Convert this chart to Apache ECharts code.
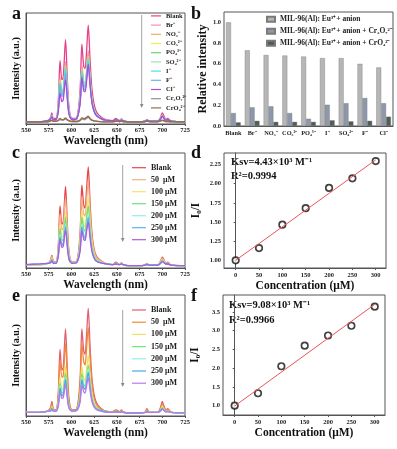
<!DOCTYPE html>
<html>
<head>
<meta charset="utf-8">
<script src="https://cdn.jsdelivr.net/npm/echarts@6/dist/echarts.min.js"></script>
<style>
  html, body { margin: 0; padding: 0; background: #fff; }
  #main { width: 397px; height: 449px; }
</style>
</head>
<body>
<div id="main"></div>
<script>
// wavelength grid (nm) shared by the three spectra panels
const wl = [550,565,574,577,578.5,580,583,585.5,587.5,589.5,591,593.5,595.5,597.5,601,606,609.5,611.5,613.5,615,616.5,618.5,620.5,623,627,635,645,649,651,653,655,657,662,675,681,683,686,695,698,700,702,704,706,710,725];

// panel a: anion spectra (relative height, % of plot)
const aBlank = [2,2,3,6,10, 5,5,20,57,40, 42,76,40,14,5, 6,30,72,52,50, 63,89,58,28,12, 5,3,5,4,3, 4.5,3,2,2,2.5, 4,2.5,2.5,6,10, 7,4,5,2.5,2];
const aBr = [2,2,3,5,8, 4,4,15,42,30, 31,56,30,11,4, 5,22,53,38,37, 46,66,43,21,9, 4,3,4,3.5,3, 4,3,2,2,2.5, 3.5,2.5,2.5,5,8, 5.5,3.5,4,2.5,2];
const aNO3 = [2,2,3,5,7.5, 4,4,14,40,28, 30,53,28,10,4, 5,21,50,36,35, 44,62,40,20,9, 4,3,4,3.5,3, 4,3,2,2,2.5, 3.5,2.5,2.5,5,7.5, 5.5,3.5,4,2.5,2];
const aCO3 = [2,2,3,5,7.5, 4,4,14,39,28, 29,52,28,10,4, 5,21,49,35,34, 43,61,40,19,9, 4,3,4,3.5,3, 4,3,2,2,2.5, 3.5,2.5,2.5,5,7.5, 5.5,3.5,4,2.5,2];
const aPO4 = [2,2,3,5,7.5, 4,4,14,38,27, 29,51,27,10,4, 5,20,48,35,34, 43,60,39,19,9, 4,3,4,3.5,3, 4,3,2,2,2.5, 3.5,2.5,2.5,5,7.5, 5,3.5,4,2.5,2];
const aSO4 = [2,2,3,5,7, 4,4,13,38,27, 28,50,27,10,4, 5,20,47,34,33, 42,59,39,19,9, 4,3,4,3.5,3, 4,3,2,2,2.5, 3.5,2.5,2.5,5,7, 5,3.5,4,2.5,2];
const aI = [2,2,3,5,7, 4,4,13,37,26, 28,50,26,10,4, 5,20,47,34,33, 42,58,38,19,9, 4,3,4,3.5,3, 4,3,2,2,2.5, 3.5,2.5,2.5,5,7, 5,3.5,4,2.5,2];
const aF = [2,2,3,4.5,7, 4,4,13,35,25, 26,46,25,9,4, 5,19,44,32,31, 39,54,36,18,8, 4,3,4,3.5,3, 3.5,3,2,2,2.5, 3.5,2.5,2.5,4.5,7, 5,3.5,4,2.5,2];
const aCl = [2,2,3,4.5,6.5, 4,4,11,28,20, 22,40,22,8,4, 5,18,42,30,29, 37,54,35,17,8, 4,3,4,3.5,3, 3.5,3,2,2,2.5, 3.5,2.5,2.5,4.5,7, 5,3.5,4,2.5,2];
const aCr2O7 = [2,2,2,2.5,3, 2.5,2.5,3,4,3.5, 3.5,4.5,3.5,2.5,2, 2,3,4.5,4,4, 5,6,4.5,3,2.5, 2,2,2.5,2.5,2, 2.5,2,2,2,2, 2.5,2,2,2.5,3, 2.5,2,2,2,2];
const aCrO4 = [2,2,2,3,3.5, 2.5,2.5,3.5,5,4, 4,5.5,4,3,2.5, 2.5,3.5,5.5,5,5, 6,7,5,3.5,2.5, 2,2,2.5,2.5,2, 2.5,2,2,2,2, 2.5,2,2,3,3.5, 3,2.5,2.5,2,2];
const aNames = ['Blank','Br⁻','NO₃⁻','CO₃²⁻','PO₄³⁻','SO₄²⁻','I⁻','F⁻','Cl⁻','Cr₂O₇²⁻','CrO₄²⁻'];
const aColors = ['#e8408a','#f590b0','#f7a66a','#f2ec50','#6ad86a','#96e6b4','#4de0ea','#6ab4ec','#b04ad8','#909090','#9a6a4a'];

// panel b: relative intensity bars
const bCats = ['Blank','Br⁻','NO₃⁻','CO₃²⁻','PO₄³⁻','I⁻','SO₄²⁻','F⁻','Cl⁻'];
const bAnion = [1.0,0.73,0.685,0.68,0.67,0.655,0.655,0.60,0.565];
const bCr2O7 = [0.125,0.18,0.19,0.125,0.07,0.205,0.22,0.27,0.22];
const bCrO4 = [0.035,0.05,0.04,0.04,0.04,0.055,0.045,0.05,0.09];
const bNames = ['MIL-96(Al): Eu³⁺+ anion','MIL-96(Al): Eu³⁺+ anion + Cr₂O₇²⁻','MIL-96(Al): Eu³⁺+ anion + CrO₄²⁻'];

// panel c: Cr2O7 titration spectra
const cBlank = [3,3,4,7,11, 6,5,19,54,38, 40,71,38,13,5, 6,30,72,55,52, 66,88,57,27,11, 5,3,5,4,3, 4.5,3,2,2,2.5, 4,2.5,2.5,6,9.5, 7,4,5,2.5,2];
const c50 = [3,3,4,6.5,10, 5.5,5,17,47,33, 35,61,33,12,5, 6,26,62,47,45, 57,76,49,24,10, 5,3,4.5,4,3, 4,3,2,2,2.5, 3.5,2.5,2.5,5.5,8.5, 6.5,4,4.5,2.5,2];
const c100 = [3,3,4,6,8.5, 5,4.5,14,38,27, 28,49,27,10,4.5, 5.5,21,50,38,36, 46,61,40,20,8.5, 4.5,3,4,3.5,3, 4,3,2,2,2.5, 3.5,2.5,2.5,5,7.5, 5.5,3.5,4,2.5,2];
const c150 = [3,3,4,5.5,8, 5,4.5,13,34,24, 25,44,24,9,4.5, 5,19,44,34,32, 41,54,35,17,8, 4,3,4,3.5,3, 3.5,3,2,2,2.5, 3.5,2.5,2.5,4.5,7, 5,3.5,4,2.5,2];
const c200 = [3,3.5,4,5,7, 4.5,4,11,29,21, 22,38,21,8,4, 5,17,38,29,27, 35,46,30,15,7, 4,3,3.5,3.5,3, 3.5,3,2,2,2.5, 3,2.5,2.5,4,6, 4.5,3.5,3.5,2.5,2];
const c250 = [3,3.5,4,5,7, 4.5,4,11,27,20, 21,36,20,8,4, 5,16,36,28,26, 33,44,29,14,6.5, 4,3,3.5,3.5,3, 3.5,3,2,2,2.5, 3,2.5,2.5,4,6, 4.5,3.5,3.5,2.5,2];
const c300 = [3,3.5,4,4.5,6, 4,4,10,25,18, 19,33,18,7,4, 5,14.5,33,25,24, 31,40,26,13,6, 4,3,3.5,3,3, 3.5,3,2,2,2.5, 3,2.5,2.5,4,5.5, 4.5,3.5,3.5,2.5,2];
const cNames = ['Blank','50  μM','100 μM','150 μM','200 μM','250 μM','300 μM'];
const cColors = ['#e8454a','#f4b088','#f3e46a','#6ee07a','#8ef0f0','#5ab4ec','#b05ae0'];

// panel e: CrO4 titration spectra
const eBlank = [3,3,4,7,12, 6,5,19,55,38, 40,72,38,13,5, 6,30,72,54,51, 65,89,58,28,12, 5,3.5,5,4.5,3.5, 5,3.5,2.5,2.5,3, 6,3,3,7,12, 8,5,6,3,2.5];
const e50 = [3,3,4,6.5,10, 5.5,4.5,16,46,32, 33,60,32,11,4.5, 5.5,25,60,45,42, 54,73,48,23,10, 4.5,3.5,4.5,4,3.5, 4.5,3.5,2.5,2.5,3, 5,3,3,6,10, 7,4.5,5.5,3,2.5];
const e100 = [3,3,4,5,8, 4.5,4,12,32,22, 23,41,22,8.5,4, 5,18,41,31,29, 37,50,33,17,8, 4,3,4,3.5,3, 4,3,2.5,2.5,3, 4,3,3,5,8, 5.5,4,4.5,3,2.5];
const e150 = [3,3,4,5,7, 4.5,4,10,27,19, 20,35,19,7.5,4, 5,15,35,26,25, 31,42,28,14,7, 4,3,4,3.5,3, 3.5,3,2.5,2.5,3, 3.5,3,3,4.5,7, 5,3.5,4,3,2.5];
const e200 = [3,3,4,4.5,6.5, 4,4,9.5,25,17.5, 18.5,32,17.5,7,4, 5,14,32,24,23, 29,39,26,13,6.5, 4,3,3.5,3.5,3, 3.5,3,2.5,2.5,3, 3.5,3,3,4.5,6.5, 5,3.5,4,3,2.5];
const e250 = [3,3,4,4.5,6, 4,4,9,23,16.5, 17.5,30,16.5,6.5,4, 5,13,30,23,22, 27,36,24,12,6, 4,3,3.5,3.5,3, 3.5,3,2.5,2.5,3, 3.5,3,3,4.5,6, 4.5,3.5,4,3,2.5];
const e300 = [3,3,4,4,5.5, 4,4,8,20,14.5, 15,26,14.5,6,4, 4.5,11.5,26,20,19, 24,32,21,11,5.5, 3.5,3,3.5,3,3, 3.5,3,2.5,2.5,3, 3,3,3,4,5.5, 4.5,3.5,3.5,3,2.5];
const eColors = ['#e06070','#f08a3a','#f3e060','#6ee86e','#90f0ee','#48a8e8','#c078e8'];

// panels d and f: Stern-Volmer plots
const conc = [0,50,100,150,200,250,300];
const dRatio = [1.0,1.16,1.465,1.68,1.945,2.07,2.295];
const dFit = [[0,1.0],[300,2.31]];
const fRatio = [1.0,1.33,2.05,2.6,2.87,3.13,3.64];
const fFit = [[0,0.99],[300,3.70]];

const FF = '"Liberation Serif", "Times New Roman", serif';
const chart = echarts.init(document.getElementById('main'));

function spec(prefix, name, vals, color, idx) {
  return {
    name: prefix + name, type: 'line', xAxisIndex: idx, yAxisIndex: idx,
    data: wl.map((w, i) => [w, vals[i]]),
    symbol: 'none', smooth: 0.3,
    lineStyle: { width: 1.3, color: color }, itemStyle: { color: color }
  };
}

const lbl = { fontFamily: FF, fontWeight: 'bold', color: '#222', fontSize: 6.5 };
const axLine = { lineStyle: { color: '#555', width: 1 } };
const nameStyle = { fontFamily: FF, fontWeight: 'bold', color: '#111' };

function wlAxis(idx) {
  return {
    type: 'value', gridIndex: idx, min: 550, max: 725, interval: 25,
    axisLine: axLine, axisTick: { length: 2, lineStyle: { color: '#555' } },
    axisLabel: Object.assign({ margin: 3 }, lbl), splitLine: { show: false },
    name: 'Wavelength (nm)', nameLocation: 'middle', nameGap: 11,
    nameTextStyle: Object.assign({ fontSize: 11.5 }, nameStyle)
  };
}
function intAxis(idx) {
  return {
    type: 'value', gridIndex: idx, min: 0, max: 100,
    axisLine: axLine, axisTick: { show: false }, axisLabel: { show: false }, splitLine: { show: false },
    name: 'Intensity (a.u.)', nameLocation: 'middle', nameGap: 5,
    nameTextStyle: Object.assign({ fontSize: 10 }, nameStyle)
  };
}
function concAxis(idx) {
  return {
    type: 'value', gridIndex: idx, min: -25, max: 322,
    axisLine: axLine, axisTick: { length: 2, customValues: conc, lineStyle: { color: '#555' } },
    axisLabel: Object.assign({ margin: 4, customValues: conc }, lbl), splitLine: { show: false },
    name: 'Concentration (μM)', nameLocation: 'middle', nameGap: 12,
    nameTextStyle: Object.assign({ fontSize: 11.5 }, nameStyle)
  };
}
function ratioAxis(idx, min, max, ticks, dec) {
  return {
    type: 'value', gridIndex: idx, min: min, max: max,
    axisLine: axLine, axisTick: { length: 2, customValues: ticks, lineStyle: { color: '#555' } },
    axisLabel: Object.assign({ margin: 3, customValues: ticks, formatter: v => v.toFixed(dec) }, lbl),
    splitLine: { show: false },
    name: 'I₀/I', nameLocation: 'middle', nameGap: 22,
    nameTextStyle: Object.assign({ fontSize: 11.5 }, nameStyle)
  };
}
function specLegend(names, left, top, fs, lh, gap, w) {
  return {
    data: names, orient: 'vertical', left: left, top: top, padding: 0,
    icon: 'rect', itemWidth: w, itemHeight: 1.2, itemGap: gap, selectedMode: false,
    formatter: n => n.slice(2),
    textStyle: { fontFamily: FF, fontWeight: 'bold', color: '#222', fontSize: fs, lineHeight: lh }
  };
}

const series = [];
const aVals = [aBlank,aBr,aNO3,aCO3,aPO4,aSO4,aI,aF,aCl,aCr2O7,aCrO4];
aNames.forEach((n, i) => series.push(spec('a:', n, aVals[i], aColors[i], 0)));
const cVals = [cBlank,c50,c100,c150,c200,c250,c300];
cNames.forEach((n, i) => series.push(spec('c:', n, cVals[i], cColors[i], 2)));
const eVals = [eBlank,e50,e100,e150,e200,e250,e300];
cNames.forEach((n, i) => series.push(spec('e:', n, eVals[i], eColors[i], 4)));

const barColors = ['#b6b6b6','#8e98aa','#4e5e56'];
[bAnion, bCr2O7, bCrO4].forEach((v, i) => series.push({
  name: bNames[i], type: 'bar', xAxisIndex: 1, yAxisIndex: 1, data: v,
  barGap: '0%', barCategoryGap: '22%',
  itemStyle: { color: barColors[i], borderColor: '#7a7a7a', borderWidth: 0.4 }
}));

[[dRatio, dFit, 3], [fRatio, fFit, 5]].forEach(([pts, fit, idx]) => {
  series.push({
    type: 'line', xAxisIndex: idx, yAxisIndex: idx, data: fit, symbol: 'none',
    lineStyle: { color: '#e8555a', width: 1 }
  });
  series.push({
    type: 'scatter', xAxisIndex: idx, yAxisIndex: idx, data: conc.map((c, i) => [c, pts[i]]),
    symbol: 'circle', symbolSize: 6.5,
    itemStyle: { color: '#fff', borderColor: '#111', borderWidth: 1.7 }
  });
});

function letter(t, x, y) {
  return { type: 'text', left: x, top: y, style: { text: t, font: 'bold 18px ' + FF, fill: '#111' } };
}
function note(t, x, y) {
  return { type: 'text', left: x, top: y, style: { text: t, font: 'bold 10.5px ' + FF, fill: '#111' } };
}
function arrow(x, y1, y2) {
  return [
    { type: 'line', shape: { x1: x, y1: y1, x2: x, y2: y2 - 3 }, style: { stroke: '#8a8a8a', lineWidth: 0.8 } },
    { type: 'polygon', shape: { points: [[x - 1.8, y2 - 4], [x + 1.8, y2 - 4], [x, y2]] }, style: { fill: '#8a8a8a' } }
  ];
}

chart.setOption({
  animation: false,
  grid: [
    { left: 26, top: 13, width: 159, height: 111, show: true, borderColor: '#555', borderWidth: 1 },
    { left: 224, top: 12, width: 169, height: 114, show: true, borderColor: '#555', borderWidth: 1 },
    { left: 26, top: 153, width: 159, height: 115, show: true, borderColor: '#555', borderWidth: 1 },
    { left: 224, top: 153, width: 162, height: 115, show: true, borderColor: '#555', borderWidth: 1 },
    { left: 26, top: 295, width: 159, height: 121, show: true, borderColor: '#555', borderWidth: 1 },
    { left: 223, top: 295, width: 162, height: 120, show: true, borderColor: '#555', borderWidth: 1 }
  ],
  xAxis: [
    wlAxis(0),
    { type: 'category', gridIndex: 1, data: bCats, axisLine: axLine, axisTick: { show: false },
      axisLabel: Object.assign({ margin: 4, interval: 0 }, lbl, { fontSize: 6.3 }) },
    wlAxis(2), concAxis(3), wlAxis(4), concAxis(5)
  ],
  yAxis: [
    intAxis(0),
    { type: 'value', gridIndex: 1, min: 0, max: 1.1,
      axisLine: axLine,
      axisTick: { length: 2, customValues: [0,0.2,0.4,0.6,0.8,1.0], lineStyle: { color: '#555' } },
      axisLabel: Object.assign({ margin: 3, customValues: [0,0.2,0.4,0.6,0.8,1.0], formatter: v => v.toFixed(1) }, lbl),
      splitLine: { show: false },
      name: 'Relative intensity', nameLocation: 'middle', nameGap: 14,
      nameTextStyle: Object.assign({ fontSize: 12 }, nameStyle) },
    intAxis(2),
    ratioAxis(3, 0.9, 2.4, [1,1.25,1.5,1.75,2,2.25], 2),
    intAxis(4),
    ratioAxis(5, 0.75, 3.95, [1,1.5,2,2.5,3,3.5], 1)
  ],
  legend: [
    specLegend(aNames.map(n => 'a:' + n), 151, 12.3, 6.5, 7.2, 2, 10),
    {
      data: bNames, orient: 'vertical', left: 266, top: 15, padding: 0,
      icon: 'rect', itemWidth: 8, itemHeight: 5, itemGap: 3.5, selectedMode: false,
      textStyle: { fontFamily: FF, fontWeight: 'bold', color: '#222', fontSize: 7.5, lineHeight: 8.5 }
    },
    specLegend(cNames.map(n => 'c:' + n), 132, 163.2, 8, 9, 3, 14),
    specLegend(cNames.map(n => 'e:' + n), 132, 305.5, 8, 9, 3.2, 14)
  ],
  graphic: [
    letter('a', 12, 5), letter('b', 191, 5),
    letter('c', 12, 144), letter('d', 191, 144),
    letter('e', 12, 287), letter('f', 191, 287),
    note('Ksv=4.43×10³ M⁻¹', 231, 157), note('R²=0.9994', 231, 171),
    note('Ksv=9.08×10³ M⁻¹', 229, 300), note('R²=0.9966', 229, 315),
    ...arrow(141.7, 15, 108),
    ...arrow(122.7, 165, 242),
    ...arrow(122.7, 310, 387)
  ],
  series: series
});
</script>
</body>
</html>
